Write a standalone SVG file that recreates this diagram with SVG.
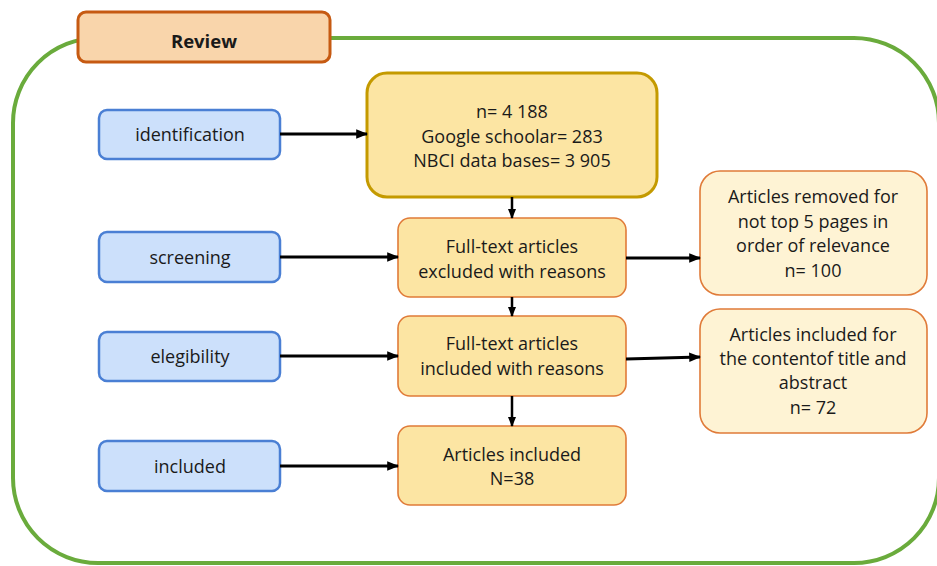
<svg xmlns="http://www.w3.org/2000/svg" width="937" height="566" viewBox="0 0 937 566">
<defs>
<marker id="arr" viewBox="0 0 10 10" refX="9" refY="5" markerWidth="4" markerHeight="4" orient="auto" markerUnits="strokeWidth">
<path d="M0,1 L10,5 L0,9 z" fill="#000"/>
</marker>
<style>
text{font-family:"Open Sans","Noto Sans",sans-serif;font-size:18px;fill:#1a1a1a;text-anchor:middle}
.blue{fill:#cce0fb;stroke:#4a7fd4;stroke-width:2.5}
.mid{fill:#fce5a3;stroke:#e07b39;stroke-width:1.6}
.side{fill:#fef3d4;stroke:#e07b39;stroke-width:1.6}
.con{stroke:#000;stroke-width:3;fill:none;marker-end:url(#arr)}
</style>
</defs>
<rect x="13" y="38" width="926" height="525" rx="85" fill="#fff" stroke="#6aab3c" stroke-width="4"/>
<g id="review">
<rect x="78" y="12" width="252" height="50" rx="8" fill="#f9d5ab" stroke="#c65a12" stroke-width="3"/>
<text x="204" y="48" style="font-weight:bold;font-size:18.5px">Review</text>
</g>
<g id="identification"><rect class="blue" x="99" y="110" width="181" height="49" rx="8"/><text x="190" y="141">identification</text></g>
<g id="screening"><rect class="blue" x="99" y="232" width="181" height="50" rx="8"/><text x="190" y="264">screening</text></g>
<g id="elegibility"><rect class="blue" x="99" y="332" width="181" height="49" rx="8"/><text x="190" y="363">elegibility</text></g>
<g id="included"><rect class="blue" x="99" y="441" width="181" height="50" rx="8"/><text x="190" y="473">included</text></g>
<g id="records">
<rect x="367" y="73" width="290" height="124" rx="20" fill="#fce5a3" stroke="#c49a00" stroke-width="3"/>
<text x="512" y="118">n= 4 188</text>
<text x="512" y="143">Google schoolar= 283</text>
<text x="512" y="167">NBCI data bases= 3 905</text>
</g>
<g id="excluded"><rect class="mid" x="398" y="218" width="228" height="79" rx="12"/><text x="512" y="253">Full-text articles</text><text x="512" y="278">excluded with reasons</text></g>
<g id="fulltext-included"><rect class="mid" x="398" y="316" width="228" height="80" rx="12"/><text x="512" y="350">Full-text articles</text><text x="512" y="375">included with reasons</text></g>
<g id="articles-included"><rect class="mid" x="398" y="426" width="228" height="79" rx="12"/><text x="512" y="461">Articles included</text><text x="512" y="485">N=38</text></g>
<g id="removed"><rect class="side" x="700" y="171" width="227" height="124" rx="20"/>
<text x="813" y="203">Articles removed for</text><text x="813" y="228">not top 5 pages in</text><text x="813" y="252">order of relevance</text><text x="813" y="277">n= 100</text></g>
<g id="included-for"><rect class="side" x="700" y="309" width="227" height="124" rx="20"/>
<text x="813" y="341">Articles included for</text><text x="813" y="365">the contentof title and</text><text x="813" y="389">abstract</text><text x="813" y="414">n= 72</text></g>
<g id="connectors">
<line class="con" x1="280" y1="134" x2="367" y2="134"/>
<line class="con" x1="280" y1="257" x2="398" y2="257"/>
<line class="con" x1="280" y1="356" x2="398" y2="356"/>
<line class="con" x1="280" y1="466" x2="398" y2="466"/>
<line class="con" x1="512" y1="197" x2="512" y2="218" style="stroke-width:2.5"/>
<line class="con" x1="512" y1="297" x2="512" y2="316" style="stroke-width:2.5"/>
<line class="con" x1="512" y1="396" x2="512" y2="426" style="stroke-width:2.5"/>
<line class="con" x1="626" y1="258" x2="700" y2="258"/>
<line class="con" x1="626" y1="359" x2="700" y2="357"/>
</g>
</svg>
